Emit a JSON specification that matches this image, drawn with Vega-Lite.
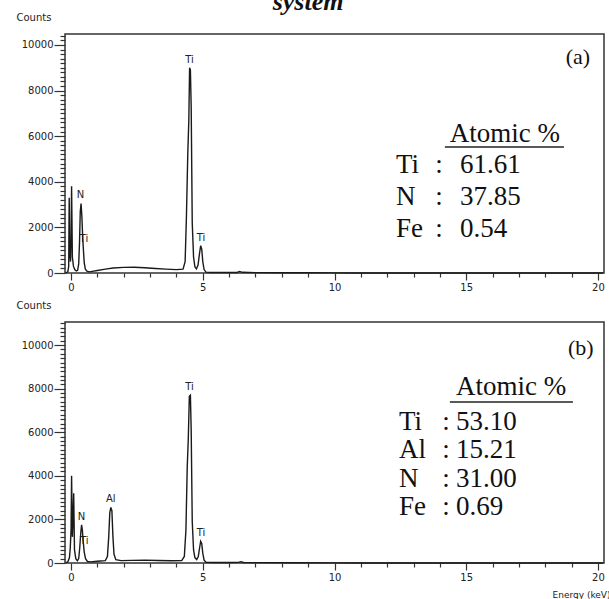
{
  "$schema": "https://vega.github.io/schema/vega-lite/v6.json",
  "padding": {"left": 15, "top": -11, "right": 0, "bottom": 0},
  "title": {"text": "system", "font": "Liberation Serif", "fontStyle": "italic", "fontWeight": "bold", "fontSize": 26, "anchor": "middle", "offset": -2, "dy": 2, "dx": -5, "color": "#111"},
  "bounds": "flush",
  "spacing": 49,
  "config": {
    "view": {"stroke": "#333", "strokeWidth": 1.5},
    "font": "DejaVu Sans",
    "axis": {"grid": false, "domain": false, "labelOverlap": false, "labelFont": "DejaVu Sans", "labelFontSize": 10, "labelColor": "#222", "tickColor": "#333", "tickWidth": 1.2, "titleFont": "DejaVu Sans", "titleFontWeight": "normal", "titleColor": "#222"}
  },
  "datasets": {
    "spectra": [
      {"panel": "a", "energy": -0.2, "counts": 0}, {"panel": "a", "energy": -0.12, "counts": 60}, {"panel": "a", "energy": -0.09, "counts": 300}, {"panel": "a", "energy": -0.07, "counts": 3300}, {"panel": "a", "energy": -0.05, "counts": 900}, {"panel": "a", "energy": -0.02, "counts": 500}, {"panel": "a", "energy": 0.0, "counts": 1500}, {"panel": "a", "energy": 0.02, "counts": 3800}, {"panel": "a", "energy": 0.05, "counts": 700}, {"panel": "a", "energy": 0.09, "counts": 300}, {"panel": "a", "energy": 0.14, "counts": 150}, {"panel": "a", "energy": 0.2, "counts": 90}, {"panel": "a", "energy": 0.25, "counts": 120}, {"panel": "a", "energy": 0.29, "counts": 400}, {"panel": "a", "energy": 0.32, "counts": 1300}, {"panel": "a", "energy": 0.35, "counts": 2700}, {"panel": "a", "energy": 0.38, "counts": 3050}, {"panel": "a", "energy": 0.41, "counts": 2500}, {"panel": "a", "energy": 0.44, "counts": 1600}, {"panel": "a", "energy": 0.47, "counts": 1000}, {"panel": "a", "energy": 0.5, "counts": 450}, {"panel": "a", "energy": 0.54, "counts": 180}, {"panel": "a", "energy": 0.6, "counts": 80}, {"panel": "a", "energy": 0.7, "counts": 50}, {"panel": "a", "energy": 0.8, "counts": 70}, {"panel": "a", "energy": 1.0, "counts": 110}, {"panel": "a", "energy": 1.3, "counts": 170}, {"panel": "a", "energy": 1.6, "counts": 220}, {"panel": "a", "energy": 2.0, "counts": 245}, {"panel": "a", "energy": 2.4, "counts": 250}, {"panel": "a", "energy": 2.8, "counts": 230}, {"panel": "a", "energy": 3.2, "counts": 200}, {"panel": "a", "energy": 3.6, "counts": 170}, {"panel": "a", "energy": 4.0, "counts": 150}, {"panel": "a", "energy": 4.25, "counts": 170}, {"panel": "a", "energy": 4.33, "counts": 500}, {"panel": "a", "energy": 4.38, "counts": 2500}, {"panel": "a", "energy": 4.43, "counts": 5200}, {"panel": "a", "energy": 4.47, "counts": 6700}, {"panel": "a", "energy": 4.5, "counts": 9000}, {"panel": "a", "energy": 4.53, "counts": 8900}, {"panel": "a", "energy": 4.56, "counts": 7300}, {"panel": "a", "energy": 4.6, "counts": 2200}, {"panel": "a", "energy": 4.65, "counts": 700}, {"panel": "a", "energy": 4.7, "counts": 280}, {"panel": "a", "energy": 4.76, "counts": 180}, {"panel": "a", "energy": 4.82, "counts": 350}, {"panel": "a", "energy": 4.87, "counts": 800}, {"panel": "a", "energy": 4.92, "counts": 1200}, {"panel": "a", "energy": 4.96, "counts": 1050}, {"panel": "a", "energy": 5.0, "counts": 500}, {"panel": "a", "energy": 5.05, "counts": 150}, {"panel": "a", "energy": 5.12, "counts": 40}, {"panel": "a", "energy": 5.3, "counts": 25}, {"panel": "a", "energy": 5.8, "counts": 20}, {"panel": "a", "energy": 6.3, "counts": 25}, {"panel": "a", "energy": 6.4, "counts": 70}, {"panel": "a", "energy": 6.5, "counts": 30}, {"panel": "a", "energy": 7.0, "counts": 15}, {"panel": "a", "energy": 8.0, "counts": 10}, {"panel": "a", "energy": 9.0, "counts": 8}, {"panel": "a", "energy": 10.0, "counts": 5}, {"panel": "a", "energy": 11.0, "counts": 0}, {"panel": "a", "energy": 20.2, "counts": 0},
      {"panel": "b", "energy": -0.2, "counts": 0}, {"panel": "b", "energy": -0.12, "counts": 60}, {"panel": "b", "energy": -0.06, "counts": 250}, {"panel": "b", "energy": -0.03, "counts": 700}, {"panel": "b", "energy": 0.0, "counts": 1500}, {"panel": "b", "energy": 0.02, "counts": 4000}, {"panel": "b", "energy": 0.05, "counts": 1200}, {"panel": "b", "energy": 0.08, "counts": 2200}, {"panel": "b", "energy": 0.1, "counts": 3200}, {"panel": "b", "energy": 0.13, "counts": 600}, {"panel": "b", "energy": 0.18, "counts": 200}, {"panel": "b", "energy": 0.24, "counts": 100}, {"panel": "b", "energy": 0.29, "counts": 200}, {"panel": "b", "energy": 0.33, "counts": 700}, {"panel": "b", "energy": 0.37, "counts": 1400}, {"panel": "b", "energy": 0.4, "counts": 1750}, {"panel": "b", "energy": 0.43, "counts": 1500}, {"panel": "b", "energy": 0.46, "counts": 1000}, {"panel": "b", "energy": 0.5, "counts": 500}, {"panel": "b", "energy": 0.55, "counts": 200}, {"panel": "b", "energy": 0.62, "counts": 70}, {"panel": "b", "energy": 0.75, "counts": 50}, {"panel": "b", "energy": 0.9, "counts": 70}, {"panel": "b", "energy": 1.1, "counts": 90}, {"panel": "b", "energy": 1.3, "counts": 110}, {"panel": "b", "energy": 1.38, "counts": 300}, {"panel": "b", "energy": 1.43, "counts": 1200}, {"panel": "b", "energy": 1.47, "counts": 2300}, {"panel": "b", "energy": 1.51, "counts": 2550}, {"panel": "b", "energy": 1.55, "counts": 2400}, {"panel": "b", "energy": 1.59, "counts": 1200}, {"panel": "b", "energy": 1.63, "counts": 400}, {"panel": "b", "energy": 1.7, "counts": 150}, {"panel": "b", "energy": 1.9, "counts": 110}, {"panel": "b", "energy": 2.3, "counts": 120}, {"panel": "b", "energy": 2.8, "counts": 130}, {"panel": "b", "energy": 3.3, "counts": 115}, {"panel": "b", "energy": 3.8, "counts": 100}, {"panel": "b", "energy": 4.2, "counts": 110}, {"panel": "b", "energy": 4.3, "counts": 300}, {"panel": "b", "energy": 4.36, "counts": 1500}, {"panel": "b", "energy": 4.41, "counts": 4400}, {"panel": "b", "energy": 4.45, "counts": 5700}, {"panel": "b", "energy": 4.49, "counts": 7650}, {"panel": "b", "energy": 4.53, "counts": 7700}, {"panel": "b", "energy": 4.56, "counts": 6100}, {"panel": "b", "energy": 4.6, "counts": 1900}, {"panel": "b", "energy": 4.65, "counts": 600}, {"panel": "b", "energy": 4.7, "counts": 250}, {"panel": "b", "energy": 4.77, "counts": 160}, {"panel": "b", "energy": 4.83, "counts": 300}, {"panel": "b", "energy": 4.88, "counts": 700}, {"panel": "b", "energy": 4.92, "counts": 1000}, {"panel": "b", "energy": 4.96, "counts": 900}, {"panel": "b", "energy": 5.0, "counts": 450}, {"panel": "b", "energy": 5.05, "counts": 130}, {"panel": "b", "energy": 5.12, "counts": 35}, {"panel": "b", "energy": 5.4, "counts": 25}, {"panel": "b", "energy": 6.0, "counts": 20}, {"panel": "b", "energy": 6.35, "counts": 30}, {"panel": "b", "energy": 6.45, "counts": 60}, {"panel": "b", "energy": 6.55, "counts": 25}, {"panel": "b", "energy": 7.0, "counts": 15}, {"panel": "b", "energy": 8.5, "counts": 10}, {"panel": "b", "energy": 10.0, "counts": 5}, {"panel": "b", "energy": 11.0, "counts": 0}, {"panel": "b", "energy": 20.2, "counts": 0}
    ],
    "peaks": [
      {"panel": "a", "label": "Ti", "line": "Ka", "energy": 4.5, "counts": 9000},
      {"panel": "a", "label": "N", "line": "Ka", "energy": 0.36, "counts": 3050},
      {"panel": "a", "label": "Ti", "line": "Kb", "energy": 4.93, "counts": 1200},
      {"panel": "a", "label": "Ti", "line": "L", "energy": 0.45, "counts": 1500},
      {"panel": "b", "label": "Ti", "line": "Ka", "energy": 4.5, "counts": 7700},
      {"panel": "b", "label": "Al", "line": "Ka", "energy": 1.51, "counts": 2550},
      {"panel": "b", "label": "N", "line": "Ka", "energy": 0.4, "counts": 1750},
      {"panel": "b", "label": "Ti", "line": "Kb", "energy": 4.93, "counts": 1000},
      {"panel": "b", "label": "Ti", "line": "L", "energy": 0.46, "counts": 1000}
    ],
    "composition": [
      {"panel": "a", "element": "Ti", "percent": "61.61", "row": 1},
      {"panel": "a", "element": "N", "percent": "37.85", "row": 2},
      {"panel": "a", "element": "Fe", "percent": "0.54", "row": 3},
      {"panel": "b", "element": "Ti", "percent": "53.10", "row": 1},
      {"panel": "b", "element": "Al", "percent": "15.21", "row": 2},
      {"panel": "b", "element": "N", "percent": "31.00", "row": 3},
      {"panel": "b", "element": "Fe", "percent": "0.69", "row": 4}
    ]
  },
  "vconcat": [
    {
      "width": 539, "height": 239,
      "layer": [
        {
          "layer": [
            {
              "data": {"name": "peaks"},
              "transform": [{"filter": "datum.panel === 'a' && datum.line === 'L'"}],
              "mark": {"type": "text", "fontSize": 10, "color": "#222", "baseline": "middle", "dx": 1},
              "encoding": {"x": {"field": "energy", "type": "quantitative"}, "y": {"field": "counts", "type": "quantitative"}, "text": {"field": "label"}}
            },
            {
              "data": {"name": "spectra"},
              "transform": [{"filter": "datum.panel === 'a'"}],
              "mark": {"type": "line", "color": "#1a1a1a", "strokeWidth": 1.4},
              "encoding": {
                "x": {"field": "energy", "type": "quantitative", "scale": {"domain": [-0.23, 20.23], "nice": false, "zero": false},
                  "axis": {"title": null, "format": "d", "tickCount": 100, "labelOverlap": false, "labelBound": false, "values": [0,1,2,3,4,5,6,7,8,9,10,11,12,13,14,15,16,17,18,19,20], "labelExpr": "datum.value % 5 === 0 ? datum.label : ''", "tickSize": {"condition": {"test": "datum.value % 5 === 0", "value": 7}, "value": 4}, "labelPadding": 2}},
                "y": {"field": "counts", "type": "quantitative", "scale": {"domain": [0, 10480], "nice": false},
                  "axis": {"title": "Counts", "tickCount": 200, "labelOverlap": false, "labelBound": false, "titleAngle": 0, "titleAlign": "left", "titleBaseline": "middle", "titleX": -49, "titleY": -17, "titleFontSize": 10, "format": "d",
                    "values": [0,200,400,600,800,1000,1200,1400,1600,1800,2000,2200,2400,2600,2800,3000,3200,3400,3600,3800,4000,4200,4400,4600,4800,5000,5200,5400,5600,5800,6000,6200,6400,6600,6800,7000,7200,7400,7600,7800,8000,8200,8400,8600,8800,9000,9200,9400,9600,9800,10000,10200,10400],
                    "labelExpr": "datum.value % 2000 === 0 ? datum.label : ''", "tickSize": {"condition": {"test": "datum.value % 2000 === 0", "value": 11}, "value": 5}, "labelPadding": 1}}
              }
            },
            {
              "data": {"name": "peaks"},
              "transform": [{"filter": "datum.panel === 'a' && datum.line !== 'L'"}],
              "mark": {"type": "text", "fontSize": 10, "color": "#222", "baseline": "bottom", "dy": -3},
              "encoding": {"x": {"field": "energy", "type": "quantitative"}, "y": {"field": "counts", "type": "quantitative"}, "text": {"field": "label"}}
            },
            {
              "data": {"values": [{}]},
              "mark": {"type": "text", "font": "Liberation Serif", "fontSize": 22, "color": "#111", "baseline": "alphabetic", "align": "center"},
              "encoding": {"x": {"datum": 19.24}, "y": {"datum": 9170}, "text": {"value": "(a)"}}
            }
          ]
        },
        {
          "layer": [
            {
              "data": {"values": [{}]},
              "mark": {"type": "text", "font": "Liberation Serif", "fontSize": 27, "color": "#111", "baseline": "alphabetic", "align": "center"},
              "encoding": {"x": {"datum": 16.47}, "y": {"datum": 0.03, "scale": {"domain": [-3.344, 4.125], "reverse": true, "nice": false, "zero": false}, "axis": null}, "text": {"value": "Atomic %"}}
            },
            {
              "data": {"values": [{}]},
              "mark": {"type": "rule", "color": "#222", "strokeWidth": 1.5},
              "encoding": {"x": {"datum": 14.19}, "x2": {"datum": 18.71}, "y": {"datum": 0.187, "scale": {"domain": [-3.344, 4.125], "reverse": true, "nice": false, "zero": false}, "axis": null}}
            },
            {
              "data": {"name": "composition"},
              "transform": [{"filter": "datum.panel === 'a'"}],
              "mark": {"type": "text", "font": "Liberation Serif", "fontSize": 27, "color": "#111", "baseline": "alphabetic", "align": "left"},
              "encoding": {"x": {"datum": 12.33}, "y": {"field": "row", "type": "quantitative", "scale": {"domain": [-3.344, 4.125], "reverse": true, "nice": false, "zero": false}, "axis": null}, "text": {"field": "element"}}
            },
            {
              "data": {"name": "composition"},
              "transform": [{"filter": "datum.panel === 'a'"}],
              "mark": {"type": "text", "font": "Liberation Serif", "fontSize": 27, "color": "#111", "baseline": "alphabetic", "align": "center"},
              "encoding": {"x": {"datum": 13.97}, "y": {"field": "row", "type": "quantitative", "scale": {"domain": [-3.344, 4.125], "reverse": true, "nice": false, "zero": false}, "axis": null}, "text": {"value": ":"}}
            },
            {
              "data": {"name": "composition"},
              "transform": [{"filter": "datum.panel === 'a'"}],
              "mark": {"type": "text", "font": "Liberation Serif", "fontSize": 27, "color": "#111", "baseline": "alphabetic", "align": "left"},
              "encoding": {"x": {"datum": 14.76}, "y": {"field": "row", "type": "quantitative", "scale": {"domain": [-3.344, 4.125], "reverse": true, "nice": false, "zero": false}, "axis": null}, "text": {"field": "percent"}}
            }
          ]
        }
      ],
      "resolve": {"scale": {"y": "independent"}, "axis": {"y": "independent"}}
    },
    {
      "width": 539, "height": 241,
      "layer": [
        {
          "layer": [
            {
              "data": {"name": "peaks"},
              "transform": [{"filter": "datum.panel === 'b' && datum.line === 'L'"}],
              "mark": {"type": "text", "fontSize": 10, "color": "#222", "baseline": "middle", "dx": 1},
              "encoding": {"x": {"field": "energy", "type": "quantitative"}, "y": {"field": "counts", "type": "quantitative"}, "text": {"field": "label"}}
            },
            {
              "data": {"name": "spectra"},
              "transform": [{"filter": "datum.panel === 'b'"}],
              "mark": {"type": "line", "color": "#1a1a1a", "strokeWidth": 1.4},
              "encoding": {
                "x": {"field": "energy", "type": "quantitative", "scale": {"domain": [-0.23, 20.23], "nice": false, "zero": false},
                  "axis": {"title": "Energy (keV)", "format": "d", "tickCount": 100, "labelOverlap": false, "labelBound": false, "titleFontSize": 9, "titleAlign": "right", "titleBaseline": "middle", "titleX": 545, "titleY": 31, "values": [0,1,2,3,4,5,6,7,8,9,10,11,12,13,14,15,16,17,18,19,20], "labelExpr": "datum.value % 5 === 0 ? datum.label : ''", "tickSize": {"condition": {"test": "datum.value % 5 === 0", "value": 7}, "value": 4}, "labelPadding": 2}},
                "y": {"field": "counts", "type": "quantitative", "scale": {"domain": [0, 11060], "nice": false},
                  "axis": {"title": "Counts", "tickCount": 200, "labelOverlap": false, "labelBound": false, "titleAngle": 0, "titleAlign": "left", "titleBaseline": "middle", "titleX": -49, "titleY": -17, "titleFontSize": 10, "format": "d",
                    "values": [0,200,400,600,800,1000,1200,1400,1600,1800,2000,2200,2400,2600,2800,3000,3200,3400,3600,3800,4000,4200,4400,4600,4800,5000,5200,5400,5600,5800,6000,6200,6400,6600,6800,7000,7200,7400,7600,7800,8000,8200,8400,8600,8800,9000,9200,9400,9600,9800,10000,10200,10400,10600,10800,11000],
                    "labelExpr": "datum.value % 2000 === 0 ? datum.label : ''", "tickSize": {"condition": {"test": "datum.value % 2000 === 0", "value": 11}, "value": 5}, "labelPadding": 1}}
              }
            },
            {
              "data": {"name": "peaks"},
              "transform": [{"filter": "datum.panel === 'b' && datum.line !== 'L'"}],
              "mark": {"type": "text", "fontSize": 10, "color": "#222", "baseline": "bottom", "dy": -3},
              "encoding": {"x": {"field": "energy", "type": "quantitative"}, "y": {"field": "counts", "type": "quantitative"}, "text": {"field": "label"}}
            },
            {
              "data": {"values": [{}]},
              "mark": {"type": "text", "font": "Liberation Serif", "fontSize": 22, "color": "#111", "baseline": "alphabetic", "align": "center"},
              "encoding": {"x": {"datum": 19.35}, "y": {"datum": 9540}, "text": {"value": "(b)"}}
            }
          ]
        },
        {
          "layer": [
            {
              "data": {"values": [{}]},
              "mark": {"type": "text", "font": "Liberation Serif", "fontSize": 27, "color": "#111", "baseline": "alphabetic", "align": "center"},
              "encoding": {"x": {"datum": 16.7}, "y": {"datum": -0.236, "scale": {"domain": [-2.816, 5.7], "reverse": true, "nice": false, "zero": false}, "axis": null}, "text": {"value": "Atomic %"}}
            },
            {
              "data": {"values": [{}]},
              "mark": {"type": "rule", "color": "#222", "strokeWidth": 1.5},
              "encoding": {"x": {"datum": 14.38}, "x2": {"datum": 19.05}, "y": {"datum": 0.011, "scale": {"domain": [-2.816, 5.7], "reverse": true, "nice": false, "zero": false}, "axis": null}}
            },
            {
              "data": {"name": "composition"},
              "transform": [{"filter": "datum.panel === 'b'"}],
              "mark": {"type": "text", "font": "Liberation Serif", "fontSize": 27, "color": "#111", "baseline": "alphabetic", "align": "left"},
              "encoding": {"x": {"datum": 12.45}, "y": {"field": "row", "type": "quantitative", "scale": {"domain": [-2.816, 5.7], "reverse": true, "nice": false, "zero": false}, "axis": null}, "text": {"field": "element"}}
            },
            {
              "data": {"name": "composition"},
              "transform": [{"filter": "datum.panel === 'b'"}],
              "mark": {"type": "text", "font": "Liberation Serif", "fontSize": 27, "color": "#111", "baseline": "alphabetic", "align": "center"},
              "encoding": {"x": {"datum": 14.23}, "y": {"field": "row", "type": "quantitative", "scale": {"domain": [-2.816, 5.7], "reverse": true, "nice": false, "zero": false}, "axis": null}, "text": {"value": ":"}}
            },
            {
              "data": {"name": "composition"},
              "transform": [{"filter": "datum.panel === 'b'"}],
              "mark": {"type": "text", "font": "Liberation Serif", "fontSize": 27, "color": "#111", "baseline": "alphabetic", "align": "left"},
              "encoding": {"x": {"datum": 14.61}, "y": {"field": "row", "type": "quantitative", "scale": {"domain": [-2.816, 5.7], "reverse": true, "nice": false, "zero": false}, "axis": null}, "text": {"field": "percent"}}
            }
          ]
        }
      ],
      "resolve": {"scale": {"y": "independent"}, "axis": {"y": "independent"}}
    }
  ]
}
